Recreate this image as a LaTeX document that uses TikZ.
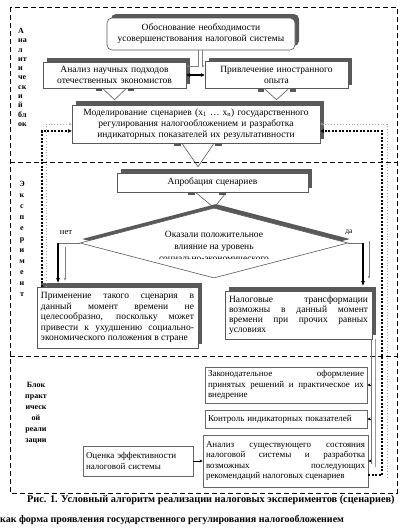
\documentclass[tikz,border=0pt]{standalone}
\usepackage{fontspec}
\setmainfont{Liberation Serif}
\usetikzlibrary{shapes.geometric,arrows.meta,shadows,calc}
\tikzset{
  box/.style={draw=black!65,fill=white,line width=0.6pt,inner xsep=4pt,inner ysep=1pt,font=\fontsize{9.5}{11}\selectfont,align=center},
  shbox/.style={box,general shadow={fill=black!65,shadow xshift=4pt,shadow yshift=4pt}},
  plainbox/.style={box,draw=black!60,line width=0.9pt,inner xsep=3pt,align=justify,font=\fontsize{9}{10.5}\selectfont},
  dframe/.style={line width=1pt,dash pattern=on 5pt off 3pt},
  fbline/.style={line width=1.3pt,dash pattern=on 2pt off 1.5pt,-{Stealth[length=4pt,width=4pt]}},
  fbgray/.style={black!35,line width=0.9pt,dotted,-{Stealth[length=3pt,width=3pt,open]}},
  thinline/.style={black!55,line width=0.5pt},
  thinarr/.style={black!50,line width=0.5pt,-{Stealth[length=3pt,width=2.5pt]}},
  smallarr/.style={line width=0.6pt,-{Stealth[length=3pt,width=3pt]}},
  bigarr/.style={line width=1.3pt,-{Stealth[length=5pt,width=4pt]}},
  dblarr/.style={line width=1.3pt,{Stealth[length=4pt,width=4pt]}-{Stealth[length=4pt,width=4pt]}},
  tailshape/.style={draw=black!65,line width=0.6pt},
  notchbar/.style={fill=black!65},
  sidelabel/.style={font=\fontsize{8}{9.3}\selectfont\bfseries,align=left,inner sep=0pt,anchor=north west},
  lbl/.style={font=\fontsize{8.5}{10}\selectfont,inner sep=0pt}
}
\begin{document}
\begin{tikzpicture}[x=1pt,y=-1pt]
\useasboundingbox (0,0) rectangle (400,531);
\draw[dframe] (10,7) rectangle (397,493);
\draw[dframe] (10,162) -- (397,162);
\draw[dframe] (10,356) -- (397,356);

\node[sidelabel] (labA) at (18,28) {А\\на\\л\\ит\\и\\че\\ск\\и\\й\\бл\\ок};
\node[sidelabel,align=center,anchor=north,font=\fontsize{8}{11}\selectfont\bfseries] (labE) at (22,181) {Э\\к\\с\\п\\е\\р\\и\\м\\е\\н\\т};
\node[sidelabel,align=center,anchor=north,font=\fontsize{8}{11}\selectfont\bfseries] (labB) at (36,382) {Блок\\практ\\ическ\\ой\\реали\\зации};

\node[shbox,rounded corners=5pt,text width=180pt,minimum height=32pt] (obos) at (201,34) {Обоснование необходимости\\усовершенствования налоговой системы};
\node[shbox,text width=135pt,minimum height=26pt] (anl) at (114.5,75) {Анализ научных подходов\\отечественных экономистов};
\node[shbox,text width=135pt,minimum height=27pt] (priv) at (276.5,75) {Привлечение иностранного\\опыта};
\node[shbox,text width=240pt,minimum height=38pt] (model) at (196,124) {Моделирование сценариев (x\textsubscript{1} … x\textsubscript{n}) государственного\\регулирования налогообложением и разработка\\индикаторных показателей их результативности};
\node[shbox,text width=183pt,minimum height=19pt] (aprob) at (212.5,182.5) {Апробация сценариев};
\node[diamond,draw=black!65,fill=white,line width=0.6pt,minimum width=268pt,minimum height=70pt,inner sep=0pt,general shadow={fill=black!65,shadow xshift=2pt,shadow yshift=4pt}] (diam) at (214,243) {};
\begin{scope}
\clip (80,222) rectangle (348,258.5);
\node[font=\fontsize{9.5}{12}\selectfont,align=center] (dtext) at (214,247) {Оказали положительное\\влияние на уровень\\социально-экономического};
\end{scope}
\node[shbox,align=justify,text width=153pt,minimum height=61pt,font=\fontsize{9.5}{10.5}\selectfont] (prim) at (117.5,317.5) {Применение такого сценария в\linebreak данный момент времени не\linebreak целесообразно, поскольку может\linebreak привести к ухудшению социально-\linebreak экономического положения в стране};
\node[shbox,align=justify,text width=139pt,minimum height=48pt,font=\fontsize{9.5}{10}\selectfont] (nal) at (298.5,315) {Налоговые трансформации\linebreak возможны в данный момент\linebreak времени при прочих равных\linebreak условиях};
\node[plainbox,text width=156pt,minimum height=36pt] (zak) at (286,385) {Законодательное оформление\linebreak принятых решений и практическое их\linebreak внедрение};
\node[plainbox,align=left,text width=156pt,minimum height=18pt] (kontr) at (286,419) {Контроль индикаторных показателей};
\node[plainbox,text width=159pt,minimum height=52pt] (anls) at (285.5,461) {Анализ существующего состояния\linebreak налоговой системы и разработка\linebreak возможных последующих\linebreak рекомендаций налоговых сценариев};
\node[plainbox,align=left,text width=104pt,minimum height=30pt] (ocen) at (138,461) {Оценка эффективности\\налоговой системы};

\draw[tailshape] ([xshift=-12pt]anl.south) -- ($(anl.south |- model.north)+(0,-5)$) -- ([xshift=12pt]anl.south);
\fill[notchbar] ([xshift=-19pt]anl.south) rectangle ++(6,3);
\fill[notchbar] ([xshift=13pt]anl.south) rectangle ++(6,3);
\draw[tailshape] ([xshift=-12pt]priv.south) -- ($(priv.south |- model.north)+(0,-5)$) -- ([xshift=12pt]priv.south);
\fill[notchbar] ([xshift=-19pt]priv.south) rectangle ++(6,3);
\fill[notchbar] ([xshift=13pt]priv.south) rectangle ++(6,3);
\draw[tailshape] ([xshift=-14pt]model.south) -- ($(model.south |- aprob.north)+(2,-6)$) -- ([xshift=18pt]model.south);
\fill[notchbar] ([xshift=-22pt]model.south) rectangle ++(7,3);
\fill[notchbar] ([xshift=19pt]model.south) rectangle ++(7,3);
\draw[tailshape] ([xshift=-17pt]aprob.south) -- (diam.north) -- ([xshift=14pt]aprob.south);
\fill[notchbar] ([xshift=-25pt]aprob.south) rectangle ++(7,3);
\fill[notchbar] ([xshift=6pt]aprob.south) rectangle ++(7,3);

\draw[thinarr] ([xshift=-3pt]obos.south) |- ([yshift=9pt]anl.east);
\draw[thinarr] ([xshift=1pt]obos.south) |- ([yshift=9pt]priv.west);
\draw[dblarr] (anl.east) -- (anl.east -| priv.west);

\coordinate (noC) at (58,243);
\coordinate (yesC) at (363,243);
\node[lbl] (no) at (66,233) {нет};
\node[lbl,font=\fontsize{7.5}{9}\selectfont] (yes) at (349,232) {да};
\draw[thinline] (diam.west) -- (noC);
\draw[bigarr] (noC) -- ([yshift=4pt]noC |- prim.north);
\draw[thinarr] ([xshift=7pt,yshift=-4pt]noC) -- ([xshift=7pt,yshift=6pt]noC |- prim.north);
\draw[thinline] (diam.east) -- (yesC);
\draw[bigarr] (yesC) -- ([yshift=5pt]yesC |- nal.north);
\draw[thinarr] ([xshift=6pt,yshift=2pt]yesC) -- ([xshift=6pt,yshift=12pt]yesC |- nal.north);

\draw[thinline] ([xshift=-1pt]nal.south east) -- ([xshift=-1pt,yshift=-3pt]nal.south east |- anls.east);
\draw[black!40,line width=0.5pt] ([xshift=3pt]nal.south east) -- ([xshift=3pt,yshift=-6pt]nal.south east |- anls.east);
\foreach \b in {zak,kontr,anls}
  \draw[smallarr] ([xshift=-1pt]\b.east -| nal.south east) -- (\b.east);
\draw[smallarr] (ocen.east) -- (ocen.east -| anls.west);

\coordinate (fbR) at (382,131);
\coordinate (fbR2) at (387,124);
\coordinate (fbL) at (42,131);
\coordinate (fbL2) at (46,124);
\draw[fbline] ([yshift=-14pt]anls.east) -| (fbR) -- (fbR -| model.east);
\draw[fbgray] ([yshift=-17pt]anls.east -| fbR2) -- (fbR2) -- (model.east);
\draw[fbline] (fbL |- prim.north) -- (fbL) -- (fbL -| model.west);
\draw[fbgray] (fbL2 |- prim.north) -- (fbL2) -- (model.west);

\node[font=\fontsize{10.3}{12}\selectfont\bfseries,anchor=west,inner sep=0pt] (cap1) at (27,500) {Рис. 1. Условный алгоритм реализации налоговых экспериментов (сценариев)};
\node[font=\fontsize{10}{12}\selectfont\bfseries,anchor=west,inner sep=0pt] (cap2) at (0,520) {как форма проявления государственного регулирования налогообложением};
\end{tikzpicture}
\end{document}
